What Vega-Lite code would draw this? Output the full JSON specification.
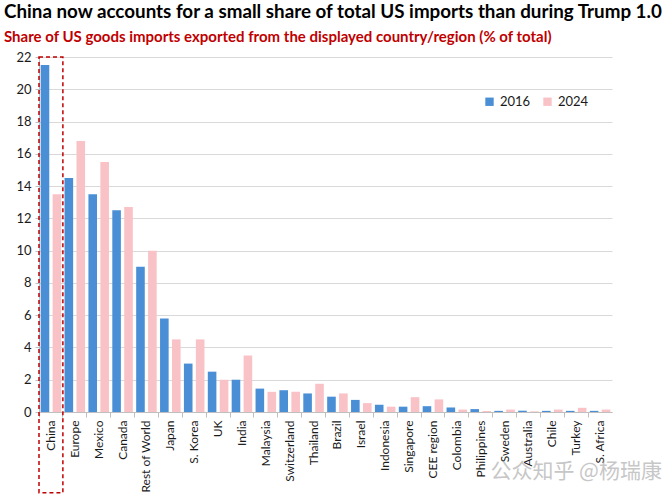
{
  "$schema": "https://vega.github.io/schema/vega-lite/v6.json",
  "width": 573,
  "height": 355,
  "autosize": {"type": "none"},
  "padding": {"left": 39, "top": 57, "right": 54, "bottom": 88},
  "background": "white",
  "config": {
    "view": {"stroke": null},
    "axisY": {
      "title": null,
      "labelOverlap": false,
      "grid": true,
      "gridColor": "#d9d9d9",
      "domain": true,
      "domainColor": "#bfbfbf",
      "ticks": true,
      "tickSize": 4,
      "tickColor": "#bfbfbf",
      "labelFont": "Lato",
      "labelFontSize": 13,
      "labelColor": "#1a1a1a",
      "labelPadding": 4
    }
  },
  "title": {
    "text": "China now accounts for a small share of total US imports than during Trump 1.0",
    "subtitle": "Share of US goods imports exported from the displayed country/region (% of total)",
    "anchor": "start",
    "frame": "group",
    "dx": -35,
    "offset": 6,
    "font": "Lato",
    "fontSize": 18.8,
    "fontWeight": "bold",
    "color": "#000000",
    "subtitleFont": "Lato",
    "subtitleFontSize": 15,
    "subtitleFontWeight": "bold",
    "subtitleColor": "#C00000",
    "subtitlePadding": 8
  },
  "datasets": {
    "bars": [
      {"country": "China", "year": "2016", "value": 21.5},
      {"country": "China", "year": "2024", "value": 13.5},
      {"country": "Europe", "year": "2016", "value": 14.5},
      {"country": "Europe", "year": "2024", "value": 16.8},
      {"country": "Mexico", "year": "2016", "value": 13.5},
      {"country": "Mexico", "year": "2024", "value": 15.5},
      {"country": "Canada", "year": "2016", "value": 12.5},
      {"country": "Canada", "year": "2024", "value": 12.7},
      {"country": "Rest of World", "year": "2016", "value": 9.0},
      {"country": "Rest of World", "year": "2024", "value": 10.0},
      {"country": "Japan", "year": "2016", "value": 5.8},
      {"country": "Japan", "year": "2024", "value": 4.5},
      {"country": "S. Korea", "year": "2016", "value": 3.0},
      {"country": "S. Korea", "year": "2024", "value": 4.5},
      {"country": "UK", "year": "2016", "value": 2.5},
      {"country": "UK", "year": "2024", "value": 2.0},
      {"country": "India", "year": "2016", "value": 2.0},
      {"country": "India", "year": "2024", "value": 3.5},
      {"country": "Malaysia", "year": "2016", "value": 1.45},
      {"country": "Malaysia", "year": "2024", "value": 1.25},
      {"country": "Switzerland", "year": "2016", "value": 1.35},
      {"country": "Switzerland", "year": "2024", "value": 1.25},
      {"country": "Thailand", "year": "2016", "value": 1.15},
      {"country": "Thailand", "year": "2024", "value": 1.75},
      {"country": "Brazil", "year": "2016", "value": 0.95},
      {"country": "Brazil", "year": "2024", "value": 1.15},
      {"country": "Israel", "year": "2016", "value": 0.75},
      {"country": "Israel", "year": "2024", "value": 0.55},
      {"country": "Indonesia", "year": "2016", "value": 0.45},
      {"country": "Indonesia", "year": "2024", "value": 0.33},
      {"country": "Singapore", "year": "2016", "value": 0.33},
      {"country": "Singapore", "year": "2024", "value": 0.92},
      {"country": "CEE region", "year": "2016", "value": 0.36},
      {"country": "CEE region", "year": "2024", "value": 0.78},
      {"country": "Colombia", "year": "2016", "value": 0.28},
      {"country": "Colombia", "year": "2024", "value": 0.15},
      {"country": "Philippines", "year": "2016", "value": 0.18},
      {"country": "Philippines", "year": "2024", "value": 0.06},
      {"country": "Sweden", "year": "2016", "value": 0.07},
      {"country": "Sweden", "year": "2024", "value": 0.15},
      {"country": "Australia", "year": "2016", "value": 0.08},
      {"country": "Australia", "year": "2024", "value": 0.04},
      {"country": "Chile", "year": "2016", "value": 0.07},
      {"country": "Chile", "year": "2024", "value": 0.15},
      {"country": "Turkey", "year": "2016", "value": 0.07},
      {"country": "Turkey", "year": "2024", "value": 0.26},
      {"country": "S. Africa", "year": "2016", "value": 0.07},
      {"country": "S. Africa", "year": "2024", "value": 0.15}
    ],
    "box": [{"country": "China"}],
    "mark": [{"label": "公众知乎 @杨瑞康"}]
  },
  "layer": [
    {
      "data": {"name": "bars"},
      "mark": {"type": "bar"},
      "encoding": {
        "x": {
          "field": "country",
          "type": "nominal",
          "sort": null,
          "scale": {"paddingInner": 0, "paddingOuter": 0},
          "axis": {
            "title": null,
            "labelAngle": -90,
            "bandPosition": 0,
            "ticks": true,
            "tickSize": 5,
            "tickColor": "#bfbfbf",
            "domainColor": "#bfbfbf",
            "labelFont": "Lato",
            "labelFontSize": 12,
            "labelColor": "#1a1a1a",
            "labelPadding": 3,
            "grid": false
          }
        },
        "xOffset": {
          "field": "year",
          "type": "nominal",
          "scale": {"paddingInner": 0.28, "paddingOuter": 0.14}
        },
        "y": {
          "field": "value",
          "type": "quantitative",
          "scale": {"domain": [0, 22], "nice": false},
          "axis": {"values": [0, 2, 4, 6, 8, 10, 12, 14, 16, 18, 20, 22]}
        },
        "color": {
          "field": "year",
          "type": "nominal",
          "scale": {"domain": ["2016", "2024"], "range": ["#4A8FD5", "#F9C2C6"]},
          "legend": {
            "title": null,
            "orient": "none",
            "legendX": 444,
            "legendY": 38,
            "direction": "horizontal",
            "symbolType": "square",
            "symbolSize": 70,
            "symbolStrokeWidth": 0,
            "labelFont": "Lato",
            "labelFontSize": 13,
            "labelColor": "#1a1a1a",
            "columnPadding": 10
          }
        }
      }
    },
    {
      "data": {"name": "box"},
      "mark": {"type": "rect", "filled": false, "stroke": "#C00000", "strokeWidth": 1.5, "strokeDash": [4, 3], "clip": false},
      "encoding": {
        "x": {"field": "country", "type": "nominal", "sort": null},
        "y": {"datum": 22, "type": "quantitative", "axis": {"values": [0, 2, 4, 6, 8, 10, 12, 14, 16, 18, 20, 22]}},
        "y2": {"datum": -5}
      }
    },
    {
      "data": {"name": "mark"},
      "mark": {"type": "text", "font": "Noto Sans CJK SC", "fontSize": 21, "color": "#9a9a9a", "opacity": 0.55, "align": "center", "baseline": "middle"},
      "encoding": {
        "text": {"field": "label"},
        "x": {"datum": "Turkey"},
        "y": {"datum": -3.7, "type": "quantitative", "axis": {"values": [0, 2, 4, 6, 8, 10, 12, 14, 16, 18, 20, 22]}}
      }
    }
  ]
}
